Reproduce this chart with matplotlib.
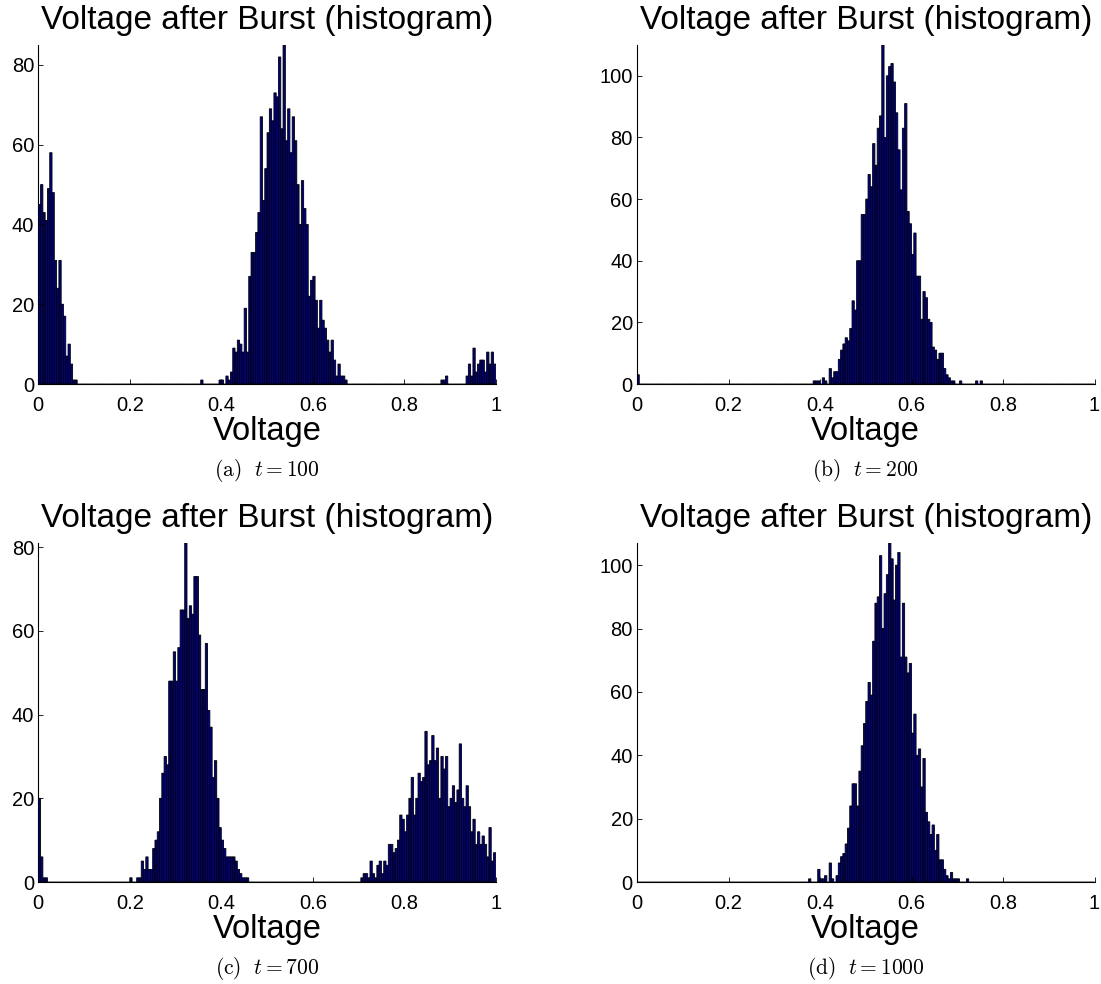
import numpy as np
import matplotlib.pyplot as plt

plt.rcParams['font.family'] = ['Liberation Sans', 'DejaVu Sans']
plt.rcParams['mathtext.fontset'] = 'cm'

nbins = 200
binw = 1.0 / nbins
centers = np.arange(nbins) * binw + binw / 2

# counts per bin (bin width 0.005), given as runs that start at a voltage
# (a) t = 100
a_low = [45, 50, 43, 41, 49, 58, 48, 31, 24, 31, 20, 17, 7, 10, 5, 1, 1]   # from 0.000
a_mid = [1, 0, 0, 0, 0, 0, 0, 0, 1, 1, 0, 2, 1, 3, 9, 8, 11, 10, 8, 19, 8,
         27, 33, 33, 38, 43, 67, 46, 54, 63, 69, 66, 73, 72, 82, 64, 85, 61, 69, 58, 67,
         61, 50, 40, 51, 44, 40, 22, 26, 27, 21, 14, 21, 16, 14, 11, 8, 11, 6, 2, 5,
         2, 2, 1]                                                            # from 0.355
a_high = [1, 1, 2, 0, 0, 0, 0, 0, 0, 0, 0, 2, 5, 2, 9, 3, 5, 6, 6, 3, 8, 5, 8, 5]  # from 0.880

# (b) t = 200
b_low = [3]                                                                  # from 0.000
b_mid = [1, 1, 1, 0, 2, 1, 0, 5, 2, 4, 4, 8, 11, 13, 15, 14, 18, 27, 24, 40,
         40, 55, 55, 60, 68, 64, 78, 71, 83, 87, 110, 80, 100, 103, 104, 98, 88, 76, 63, 83,
         91, 56, 52, 42, 49, 35, 35, 21, 30, 28, 21, 20, 12, 11, 8, 10, 10, 5, 3, 2,
         1, 1, 0, 0, 1, 0, 0, 0, 0, 0, 0, 1, 0, 1]                           # from 0.385

# (c) t = 700
c_low = [20, 6, 1, 1]                                                        # from 0.000
c_mid = [1, 0, 0, 1, 1, 5, 3, 6, 3, 3, 8, 10, 12, 20, 26, 30, 28, 48, 48, 55,
         48, 56, 65, 65, 81, 63, 66, 64, 73, 73, 59, 46, 46, 57, 41, 37, 25, 29, 20, 13,
         10, 8, 6, 6, 6, 6, 5, 3, 2, 1, 1, 1]                                # from 0.200
c_high = [1, 2, 2, 1, 5, 2, 1, 4, 5, 2, 5, 4, 9, 9, 7, 8, 10, 16, 15, 12,
          16, 20, 25, 16, 20, 26, 24, 25, 36, 28, 29, 35, 29, 32, 20, 30, 27, 30, 18, 20,
          23, 19, 22, 33, 20, 18, 23, 18, 12, 15, 9, 12, 9, 11, 9, 6, 13, 5, 7]  # from 0.705

# (d) t = 1000
d_mid = [1, 0, 0, 0, 4, 1, 1, 2, 0, 6, 1, 0, 2, 6, 8, 9, 12, 17, 24, 31,
         31, 24, 35, 43, 50, 57, 63, 59, 76, 88, 90, 103, 80, 91, 97, 107, 102, 89, 100, 104,
         71, 88, 71, 66, 69, 47, 53, 40, 42, 30, 39, 22, 19, 15, 18, 10, 15, 7, 7, 4,
         2, 1, 3, 1, 1, 1, 0, 0, 0, 1]                                       # from 0.375

panels = [
    ('(a)', 100, [(0.0, a_low), (0.355, a_mid), (0.880, a_high)], [0, 20, 40, 60, 80]),
    ('(b)', 200, [(0.0, b_low), (0.385, b_mid)], [0, 20, 40, 60, 80, 100]),
    ('(c)', 700, [(0.0, c_low), (0.200, c_mid), (0.705, c_high)], [0, 20, 40, 60, 80]),
    ('(d)', 1000, [(0.375, d_mid)], [0, 20, 40, 60, 80, 100]),
]

def build(runs):
    counts = np.zeros(nbins)
    for start, vals in runs:
        i0 = int(round(start / binw))
        counts[i0:i0 + len(vals)] = vals
    return counts

fig = plt.figure(figsize=(11.01, 9.84), dpi=100)
W, H = 1101.0, 984.0
lefts = [38.3, 637.0]
bottoms = [384.0, 882.0]
aw, ah = 457.5, 339.0

for k, (tag, t, runs, yt) in enumerate(panels):
    col, row = k % 2, k // 2
    ax = fig.add_axes([lefts[col] / W, 1 - bottoms[row] / H, aw / W, ah / H])
    counts = build(runs)
    bars = ax.bar(centers, counts, width=binw, color=(0, 0, 0.5), edgecolor='k', linewidth=0.6)
    for b in bars:
        b.set_snap(False)
    ax.set_xlim(0, 1)
    ax.set_ylim(0, counts.max())
    ax.set_xticks([0, 0.2, 0.4, 0.6, 0.8, 1])
    ax.set_xticklabels(['0', '0.2', '0.4', '0.6', '0.8', '1'])
    ax.set_yticks(yt)
    ax.tick_params(direction='in', length=3.5, width=0.6, labelsize=14.5)
    ax.tick_params(axis='x', pad=8.5)
    ax.tick_params(axis='y', pad=3)
    for s in ['top', 'right']:
        ax.spines[s].set_visible(False)
    for s in ['left', 'bottom']:
        ax.spines[s].set_linewidth(0.8)
    ax.set_title('Voltage after Burst (histogram)', fontsize=24, pad=11.5)
    ax.set_xlabel('Voltage', fontsize=23.5, labelpad=1)
    cx = (lefts[col] + aw / 2) / W
    cy = 1 - (bottoms[row] + 87) / H
    fig.text(cx, cy, r'$\mathrm{' + tag + r'}\ \ t = ' + str(t) + '$',
             ha='center', va='center', fontsize=15.5)

plt.savefig('out.png', dpi=100)
